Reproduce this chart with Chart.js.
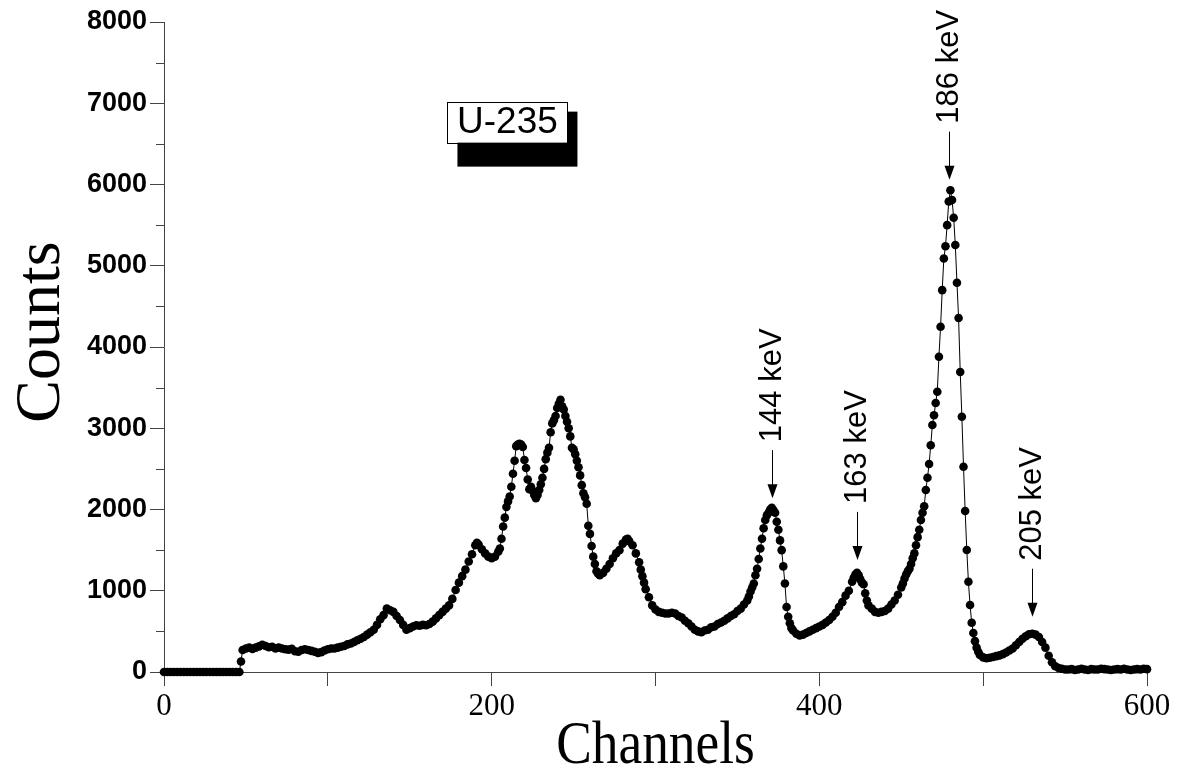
<!DOCTYPE html>
<html>
<head>
  <title>U-235 spectrum</title>
  <script src="https://cdn.jsdelivr.net/npm/chart.js@4.4.1/dist/chart.umd.min.js"></script>
  <style>
    body { margin: 0; background: #fff; }
    #wrap { width: 1181px; height: 780px; position: relative; }
  </style>
</head>
<body>
  <div id="wrap"><canvas id="spectrum"></canvas></div>

  <script>
    // channel numbers and counts
    const channels = [
      0, 2, 4, 6, 8, 10, 12, 14, 16, 18,
      20, 22, 24, 26, 28, 30, 32, 34, 36, 38,
      40, 42, 44, 46, 47, 48, 50, 52, 54, 56,
      58, 60, 62, 64, 66, 68, 70, 72, 74, 76,
      78, 80, 82, 84, 86, 88, 90, 92, 94, 96,
      98, 100, 102, 104, 106, 108, 110, 112, 114, 116,
      118, 120, 122, 124, 126, 128, 130, 132, 134, 136,
      138, 140, 142, 144, 146, 148, 150, 152, 154, 156,
      158, 160, 162, 164, 166, 168, 170, 172, 174, 176,
      178, 180, 182, 184, 186, 188, 190, 191, 192, 194,
      196, 198, 200, 202, 204, 205, 206, 207, 208, 209,
      210, 211, 212, 213, 214, 215, 216, 217, 218, 219,
      220, 221, 222, 223, 224, 225, 226, 227, 228, 229,
      230, 231, 232, 233, 234, 235, 236, 237, 238, 239,
      240, 241, 242, 243, 244, 245, 246, 247, 248, 249,
      250, 251, 252, 253, 254, 255, 256, 257, 258, 259,
      260, 261, 262, 263, 264, 265, 266, 268, 270, 272,
      274, 276, 278, 280, 282, 283, 284, 286, 288, 290,
      291, 292, 293, 294, 296, 298, 300, 302, 304, 306,
      308, 310, 312, 314, 316, 318, 320, 322, 324, 326,
      328, 330, 332, 334, 336, 338, 340, 342, 344, 346,
      348, 350, 352, 354, 356, 357, 358, 359, 360, 361,
      362, 363, 364, 365, 366, 367, 368, 369, 370, 371,
      372, 373, 374, 375, 376, 377, 378, 379, 380, 381,
      382, 383, 384, 386, 388, 390, 392, 394, 396, 398,
      400, 402, 404, 406, 408, 410, 412, 414, 416, 418,
      420, 421, 422, 423, 424, 425, 426, 427, 428, 429,
      430, 432, 434, 436, 438, 440, 442, 444, 446, 448,
      450, 451, 452, 453, 454, 455, 456, 457, 458, 459,
      460, 461, 462, 463, 464, 465, 466, 467, 468, 469,
      470, 471, 472, 473, 474, 475, 476, 477, 478, 479,
      480, 481, 482, 483, 484, 485, 486, 487, 488, 489,
      490, 491, 492, 493, 494, 495, 496, 497, 498, 500,
      502, 504, 506, 508, 510, 512, 514, 516, 518, 520,
      522, 524, 526, 528, 530, 532, 534, 536, 538, 540,
      542, 544, 546, 548, 550, 552, 554, 556, 558, 560,
      562, 564, 566, 568, 570, 572, 574, 576, 578, 580,
      582, 584, 586, 588, 590, 592, 594, 596, 598, 600
    ];
    const counts = [
      0, 0, 0, 0, 0, 0, 0, 0, 0, 0,
      0, 0, 0, 0, 0, 0, 0, 0, 0, 0,
      0, 0, 0, 0, 130, 270, 290, 300, 285, 300,
      315, 335, 320, 305, 310, 290, 300, 290, 280, 275,
      285, 255, 250, 270, 280, 270, 260, 250, 235, 245,
      265, 280, 290, 290, 300, 310, 320, 340, 350, 370,
      390, 410, 430, 460, 490, 520, 580, 650, 700, 780,
      760, 740, 690, 640, 580, 520, 540, 560, 575, 570,
      580, 575, 590, 620, 660, 700, 740, 780, 820, 900,
      1010, 1100, 1180, 1260, 1360, 1450, 1560, 1590, 1570, 1510,
      1460, 1420, 1400, 1420, 1480, 1520, 1640, 1790, 1900, 2030,
      2100, 2160, 2280, 2440, 2600, 2780, 2800, 2810, 2800, 2770,
      2610, 2510, 2370, 2250, 2280, 2230, 2180, 2140, 2180, 2240,
      2310, 2390, 2500, 2620, 2700, 2760, 2950, 3060, 3100, 3150,
      3250, 3300, 3350, 3270, 3230, 3150, 3080, 3000, 2900, 2760,
      2740, 2680, 2600, 2520, 2420, 2300, 2200, 2150, 2070, 1800,
      1700, 1550, 1420, 1330, 1240, 1210, 1190, 1220, 1270, 1330,
      1400, 1460, 1500, 1580, 1630, 1640, 1610, 1560, 1460, 1350,
      1260, 1180, 1100, 1020, 920, 820, 770, 740, 730, 720,
      720, 730, 720, 690, 670, 630, 600, 560, 520, 500,
      490, 510, 520, 550, 560, 590, 610, 630, 660, 690,
      710, 750, 780, 830, 880, 930, 990, 1040, 1090, 1190,
      1270, 1390, 1520, 1640, 1770, 1870, 1930, 1960, 2000, 2020,
      1990, 1960, 1850, 1750, 1620, 1500, 1300, 1090, 800, 680,
      600, 540, 510, 470, 450, 460, 480, 500, 520, 540,
      560, 580, 610, 640, 680, 730, 800, 860, 940, 1000,
      1110, 1160, 1200, 1220, 1190, 1140, 1100, 1080, 970, 880,
      820, 780, 740, 730, 740, 750, 780, 830, 880, 950,
      1040, 1090, 1150, 1200, 1240, 1270, 1330, 1400, 1460, 1560,
      1660, 1750, 1870, 1960, 2040, 2240, 2390, 2560, 2790, 3040,
      3160, 3310, 3450, 3880, 4250, 4700, 5090, 5240, 5500, 5790,
      5930, 5810, 5590, 5255, 4790, 4357, 3692, 3142, 2527, 1982,
      1502, 1111, 825, 607, 480, 380, 300, 250, 210, 180,
      170, 175, 185, 195, 205, 220, 240, 265, 290, 330,
      370, 410, 440, 465, 470, 460, 430, 370, 300, 200,
      120, 70, 50, 40, 30, 30, 35, 25, 30, 40,
      30, 25, 35, 30, 30, 40, 35, 30, 25, 30,
      35, 30, 40, 30, 25, 30, 35, 30, 40, 35
    ];

    const xLabeled = [0, 200, 400, 600];
    const yMinorTicks = [500, 1500, 2500, 3500, 4500, 5500, 6500, 7500];

    // peak annotations: label, channel of the arrow, count at the arrow tip
    const peakLabels = ['144 keV', '163 keV', '186 keV', '205 keV'];
    const peakChannels = [371, 423, 479, 530];
    const peakTips = [2140, 1380, 6060, 680];

    const sampleLabel = 'U-235';
    const sampleAt = [173, 7020]; // channel, count of the box's top-left corner

    const axisColor = '#444';

    const decor = {
      id: 'decor',
      afterDraw(chart) {
        const ctx = chart.ctx;
        const xs = chart.scales.x, ys = chart.scales.y;
        const area = chart.chartArea;
        ctx.save();

        // minor ticks on the counts axis
        ctx.strokeStyle = axisColor;
        ctx.lineWidth = 1;
        yMinorTicks.forEach(v => {
          const py = Math.round(ys.getPixelForValue(v)) + 0.5;
          ctx.beginPath();
          ctx.moveTo(area.left - 8, py);
          ctx.lineTo(area.left, py);
          ctx.stroke();
        });

        // axis titles
        ctx.fillStyle = '#000';
        ctx.font = '64px "Liberation Serif", "Times New Roman", serif';
        ctx.textAlign = 'center';
        ctx.textBaseline = 'middle';
        ctx.save();
        ctx.translate(42, 332);
        ctx.rotate(-Math.PI / 2);
        ctx.fillText('Counts', 0, 0);
        ctx.restore();

        ctx.save();
        ctx.translate((area.left + area.right) / 2, 747);
        ctx.scale(0.86, 1);
        ctx.font = '62px "Liberation Serif", "Times New Roman", serif';
        ctx.fillText('Channels', 0, 0);
        ctx.restore();

        // peak arrows and labels
        ctx.font = '31px "Liberation Sans", Arial, sans-serif';
        peakLabels.forEach((label, i) => {
          const px = Math.round(xs.getPixelForValue(peakChannels[i])) + 0.5;
          const tip = ys.getPixelForValue(peakTips[i]);
          const top = tip - 48;
          ctx.strokeStyle = '#000';
          ctx.beginPath();
          ctx.moveTo(px, top);
          ctx.lineTo(px, tip - 12);
          ctx.stroke();
          ctx.beginPath();
          ctx.moveTo(px - 5, tip - 14);
          ctx.lineTo(px + 5, tip - 14);
          ctx.lineTo(px, tip);
          ctx.closePath();
          ctx.fill();
          ctx.save();
          ctx.translate(px, top - 8);
          ctx.rotate(-Math.PI / 2);
          ctx.textAlign = 'left';
          ctx.textBaseline = 'middle';
          ctx.fillText(label, 0, 0);
          ctx.restore();
        });

        // sample box with drop shadow
        const bx = xs.getPixelForValue(sampleAt[0]);
        const by = ys.getPixelForValue(sampleAt[1]);
        const bw = 120, bh = 41;
        ctx.fillStyle = '#000';
        ctx.fillRect(bx + 10, by + 10, bw, bh + 14);
        ctx.fillStyle = '#fff';
        ctx.fillRect(bx, by, bw, bh);
        ctx.strokeStyle = '#000';
        ctx.strokeRect(Math.round(bx) + 0.5, Math.round(by) + 0.5, bw, bh);
        ctx.fillStyle = '#000';
        ctx.font = '37px "Liberation Sans", Arial, sans-serif';
        ctx.textAlign = 'center';
        ctx.textBaseline = 'middle';
        ctx.fillText(sampleLabel, bx + bw / 2, by + bh / 2 + 1);

        ctx.restore();
      }
    };

    const points = channels.map((c, i) => ({ x: c, y: counts[i] }));

    new Chart(document.getElementById('spectrum'), {
      type: 'scatter',
      data: {
        datasets: [{
          data: points,
          showLine: true,
          borderColor: '#000',
          borderWidth: 1,
          pointRadius: 4.3,
          pointBackgroundColor: '#000',
          pointBorderWidth: 0,
          clip: false
        }]
      },
      options: {
        responsive: true,
        maintainAspectRatio: false,
        animation: false,
        layout: { padding: { top: 22, right: 34, left: 0, bottom: 0 } },
        plugins: { legend: { display: false }, tooltip: { enabled: false } },
        scales: {
          x: {
            type: 'linear',
            min: 0,
            max: 600,
            afterFit: s => { s.height = 108; },
            ticks: {
              stepSize: 100,
              maxRotation: 0,
              autoSkip: false,
              padding: 2,
              color: '#000',
              font: { family: '"Liberation Serif", "Times New Roman", serif', size: 31 },
              callback: v => xLabeled.includes(v) ? String(v) : ''
            },
            grid: { drawOnChartArea: false, tickLength: 14, color: axisColor },
            border: { color: axisColor, width: 1 }
          },
          y: {
            min: 0,
            max: 8000,
            afterFit: s => { s.width = 164; },
            ticks: {
              stepSize: 1000,
              padding: 3,
              color: '#000',
              font: { family: '"Liberation Sans", Arial, sans-serif', size: 27, weight: 'bold' },
              callback: v => String(v)
            },
            grid: { drawOnChartArea: false, tickLength: 14, color: axisColor },
            border: { color: axisColor, width: 1 }
          }
        }
      },
      plugins: [decor]
    });
  </script>
</body>
</html>
